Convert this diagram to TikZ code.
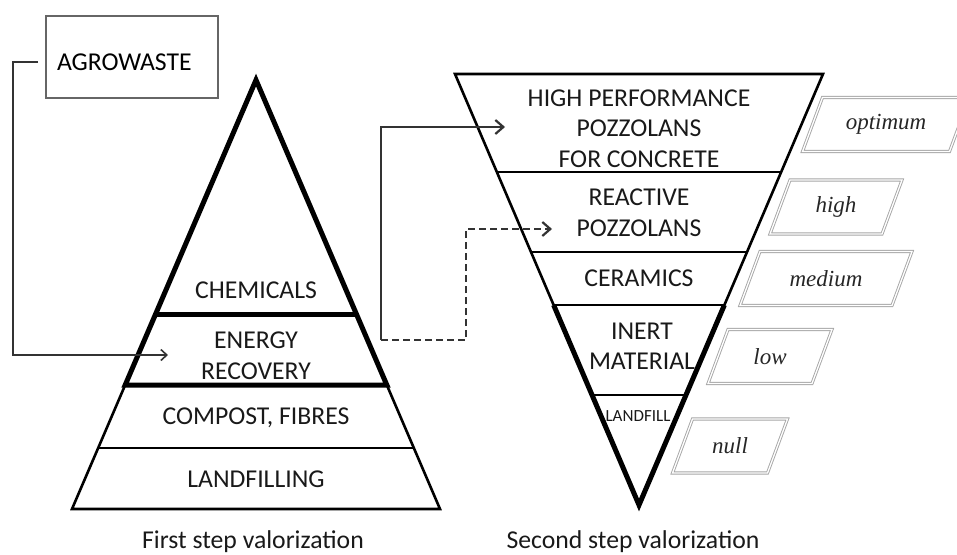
\documentclass[tikz,border=0pt]{standalone}
\usepackage{fontspec}
\setmainfont{Carlito}
\newfontfamily\gradefont{Liberation Serif}
\usetikzlibrary{calc}
\usetikzlibrary{arrows.meta}

\tikzset{
  layer/.style={font=\fontsize{25.7}{30.5}\selectfont, align=center, text=black!90, inner sep=0pt},
  thinedge/.style={line width=2.6pt},
  thickedge/.style={line width=5pt},
  grade/.style={draw=gray!70, double=white, double distance=1.3pt, line width=0.9pt},
  gradetext/.style={font=\gradefont\itshape\fontsize{23}{27}\selectfont, text=black!85},
  flow/.style={draw=black!80, line width=2.2pt, -{Straight Barb[length=8pt,width=14pt]}},
}

\begin{document}
\begin{tikzpicture}[x=1pt, y=-1pt]
    \useasboundingbox (0,0) rectangle (957,554);

    % first step pyramid
    \coordinate (ap) at (256,80);
    \coordinate (bl) at (72,509);
    \coordinate (br) at (440,509);
    \draw[thinedge] (ap) -- (bl) -- (br) -- cycle;
    \draw[thinedge] ($(ap)!0.8578!(bl)$) -- ($(ap)!0.8578!(br)$);
    \draw[thickedge] ($(ap)!0.711!(bl)$) -- (ap) -- ($(ap)!0.711!(br)$) -- cycle;
    \draw[thickedge] ($(ap)!0.5455!(bl)$) -- ($(ap)!0.5455!(br)$);

    \node[layer] (chem) at (256,290) {CHEMICALS};
    \node[layer] (energy) at (256,355.5) {ENERGY\\RECOVERY};
    \node[layer] (compost) at (256,418) {COMPOST, FIBRES};
    \node[layer] (landfilling) at (256,479.5) {LANDFILLING};
    \node[layer, anchor=base] (step1) at (253,548) {First step valorization};

    % second step pyramid (upside down)
    \coordinate (tl) at (455,74);
    \coordinate (tr) at (823,74);
    \coordinate (bot) at (639,505);
    \draw[thinedge] (tl) -- (tr) -- (bot) -- cycle;
    \foreach \t in {0.7726,0.587,0.464,0.2552}
        \draw[thinedge] ($(bot)!\t!(tl)$) -- ($(bot)!\t!(tr)$);
    \draw[thickedge] ($(bot)!0.464!(tl)$) -- (bot) -- ($(bot)!0.464!(tr)$);

    \node[layer] (hpp) at (639,128.5) {HIGH PERFORMANCE\\POZZOLANS\\FOR CONCRETE};
    \node[layer] (reactive) at (639,212.5) {REACTIVE\\POZZOLANS};
    \node[layer] (ceramics) at (639,278.5) {CERAMICS};
    \node[layer] (inert) at (642,346) {INERT\\MATERIAL};
    \node[layer, font=\fontsize{17}{20}\selectfont] (landfill) at (638,416) {LANDFILL};
    \node[layer, anchor=base] (step2) at (633,548) {Second step valorization};

    % value of each level
    \foreach \name/\cx/\cy/\w/\word in {optimum/886/124.5/147/optimum,
                                         high/836/207/112/high,
                                         medium/826/278.5/152/medium,
                                         low/770/356.5/104/low,
                                         nil/730/446/95/null} {
        \draw[grade] ({\cx-\w/2-10},{\cy+27}) -- ++(\w,0) -- ++(20,-54) -- ++(-\w,0) -- cycle;
        \node[gradetext] (\name) at (\cx,\cy) {\word};
    }

    % agrowaste input
    \node[draw=black!60, line width=1.8pt, minimum width=172pt, minimum height=82pt,
          text width=150pt, inner xsep=11pt, align=left, text height=26.5pt,
          font=\fontsize{25.7}{30.5}\selectfont] (agro) at (132,57) {AGROWASTE};
    \coordinate (in) at (168,355);
    \draw[flow, line width=1.6pt, -{Straight Barb[length=6pt,width=11pt]}]
        ($(agro.west)+(-7,5)$) -- (13,62) |- (in);

    % from energy recovery to the second step
    \coordinate (out) at (381,340);
    \coordinate (to hpp) at (505,127);
    \coordinate (to reactive) at (552,229);
    \draw[flow] (out) |- (to hpp);
    \draw[flow, dashed, dash pattern=on 7pt off 4pt] (out) -- (466,340) |- (to reactive);
\end{tikzpicture}
\end{document}
